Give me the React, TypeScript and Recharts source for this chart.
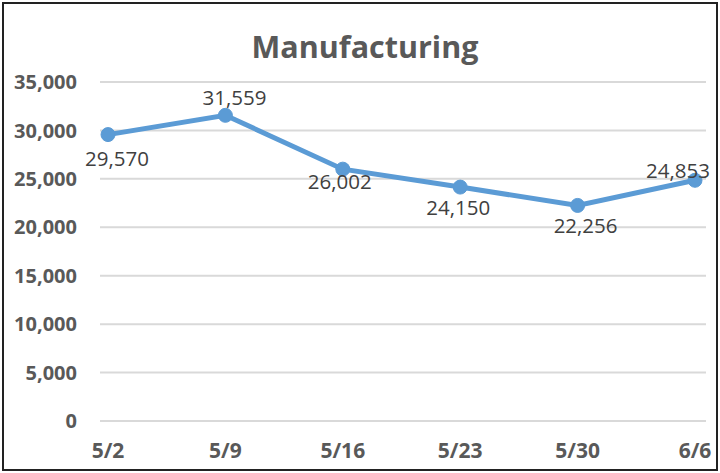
import { LineChart, Line, XAxis, YAxis, CartesianGrid, LabelList } from "recharts";

const weeks = ["5/2", "5/9", "5/16", "5/23", "5/30", "6/6"];
const manufacturing = [29570, 31559, 26002, 24150, 22256, 24853];
const yTicks = [0, 5000, 10000, 15000, 20000, 25000, 30000, 35000];

// where Excel put each data label, relative to its point
const labelShift = [
  { dx: 9, dy: 23 },
  { dx: 9, dy: -18 },
  { dx: -3, dy: 12 },
  { dx: -2, dy: 20 },
  { dx: 8, dy: 20 },
  { dx: -17, dy: -10 },
];

const data = weeks.map((w, i) => ({ week: w, value: manufacturing[i] }));

const FONT = "'Open Sans', 'Liberation Sans', sans-serif";
const fmt = (v: number) => v.toLocaleString("en-US");

function PointLabel(props: any) {
  const { x, y, value, index } = props;
  const s = labelShift[index] ?? { dx: 0, dy: 0 };
  return (
    <text
      x={x + s.dx}
      y={y + s.dy}
      textAnchor="middle"
      dominantBaseline="central"
      fontFamily={FONT}
      fontSize={20.5}
      fill="#404040"
    >
      {fmt(value)}
    </text>
  );
}

export default function App() {
  return (
    <div
      style={{
        position: "absolute",
        left: 0,
        top: 0,
        width: 720,
        height: 473,
        background: "#fff",
        fontFamily: FONT,
      }}
    >
      <div
        style={{
          position: "absolute",
          left: 2,
          top: 2,
          width: 716,
          height: 469,
          boxSizing: "border-box",
          border: "2px solid #222",
        }}
      />
      <div
        style={{
          position: "absolute",
          left: 0,
          top: 26,
          width: 730,
          textAlign: "center",
          fontSize: 30.5,
          fontWeight: 700,
          color: "#595959",
          lineHeight: "40px",
        }}
      >
        Manufacturing
      </div>
      <div style={{ position: "absolute", left: 0, top: 0 }}>
        <LineChart
          width={720}
          height={473}
          data={data}
          margin={{ top: 82, right: 14, bottom: 12, left: 0 }}
        >
          <CartesianGrid vertical={false} stroke="#d9d9d9" strokeWidth={2} />
          <XAxis
            dataKey="week"
            axisLine={false}
            tickLine={false}
            tickSize={0}
            tickMargin={22}
            height={40}
            padding={{ left: 8, right: 11 }}
            interval={0}
            tick={{ fontSize: 21, fontWeight: 700, fill: "#595959", fontFamily: FONT }}
          />
          <YAxis
            domain={[0, 35000]}
            ticks={yTicks}
            width={100}
            axisLine={false}
            tickLine={false}
            tickSize={0}
            tickMargin={23}
            tickFormatter={fmt}
            tick={{ fontSize: 20, fontWeight: 700, fill: "#595959", fontFamily: FONT }}
          />
          <Line
            type="linear"
            dataKey="value"
            stroke="#5b9bd5"
            strokeWidth={5}
            dot={{ r: 7, fill: "#5b9bd5", stroke: "#5b9bd5", strokeWidth: 1 }}
            isAnimationActive={false}
          >
            <LabelList dataKey="value" content={PointLabel} />
          </Line>
        </LineChart>
      </div>
    </div>
  );
}
